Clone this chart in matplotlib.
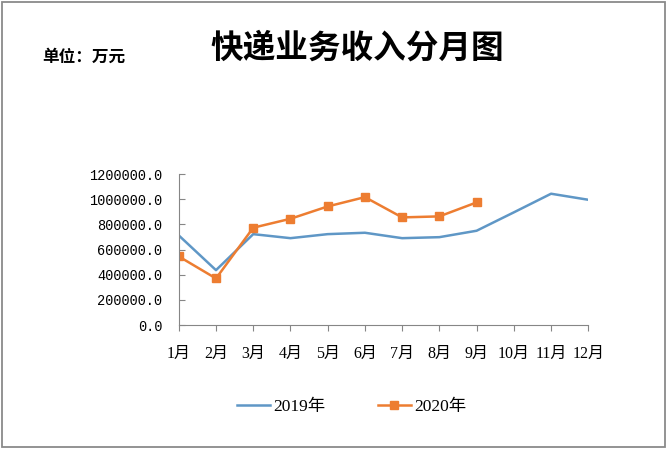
import matplotlib.pyplot as plt
from matplotlib.patches import Rectangle
from matplotlib.ticker import FuncFormatter

months = ["1月", "2月", "3月", "4月", "5月", "6月", "7月", "8月", "9月", "10月", "11月", "12月"]
rev_2019 = [713000, 437000, 723000, 691000, 723000, 734000, 691000, 699000, 750000, 896000, 1044000, 996000]
rev_2020 = [546000, 371000, 774000, 845000, 943000, 1017000, 856000, 864000, 975000]
yticks = [0, 200000, 400000, 600000, 800000, 1000000, 1200000]

cjk = ["Liberation Serif", "Noto Sans CJK SC"]

fig = plt.figure(figsize=(6.67, 4.51), dpi=100)
ax = fig.add_axes([0.268, 0.279, 0.614, 0.335])

x = list(range(len(months)))
ax.plot(x, rev_2019, color="#5f97c6", lw=1.8, label="2019年")
ax.plot(x[:len(rev_2020)], rev_2020, color="#ed7d31", lw=1.8, marker="s",
        markersize=6, label="2020年")

ax.set_xlim(0, 11)
ax.set_ylim(0, 1200000)
ax.set_xticks(x)
ax.set_xticklabels(months, family=cjk, fontsize=11.5)
ax.set_yticks(yticks)
ax.yaxis.set_major_formatter(FuncFormatter(lambda v, p: "%.1f" % v))
for t in ax.get_yticklabels():
    t.set_family("Liberation Mono")
    t.set_fontsize(9.8)
ax.tick_params(axis="y", direction="in", length=4, color="#868686", pad=12)
ax.tick_params(axis="x", direction="out", length=4, color="#868686", pad=11)
for s in ["top", "right"]:
    ax.spines[s].set_visible(False)
for s in ["left", "bottom"]:
    ax.spines[s].set_color("#868686")

fig.text(0.535, 0.893, "快递业务收入分月图", ha="center", va="center",
         family="Noto Sans CJK SC", fontweight="bold", fontsize=23.5)
fig.text(0.063, 0.874, "单位：万元", ha="left", va="center",
         family="Noto Sans CJK SC", fontweight="bold", fontsize=12)

leg = fig.legend(loc="center", bbox_to_anchor=(0.527, 0.097), ncol=2, frameon=False,
                 prop={"family": cjk, "size": 12.5}, handlelength=1.9,
                 handletextpad=0.2, columnspacing=3.0)

fig.patches.append(Rectangle((0.003, 0.008), 0.994, 0.987, transform=fig.transFigure,
                             fill=False, edgecolor="#8a8a8a", lw=1.3))

fig.savefig("out.png", dpi=100)
